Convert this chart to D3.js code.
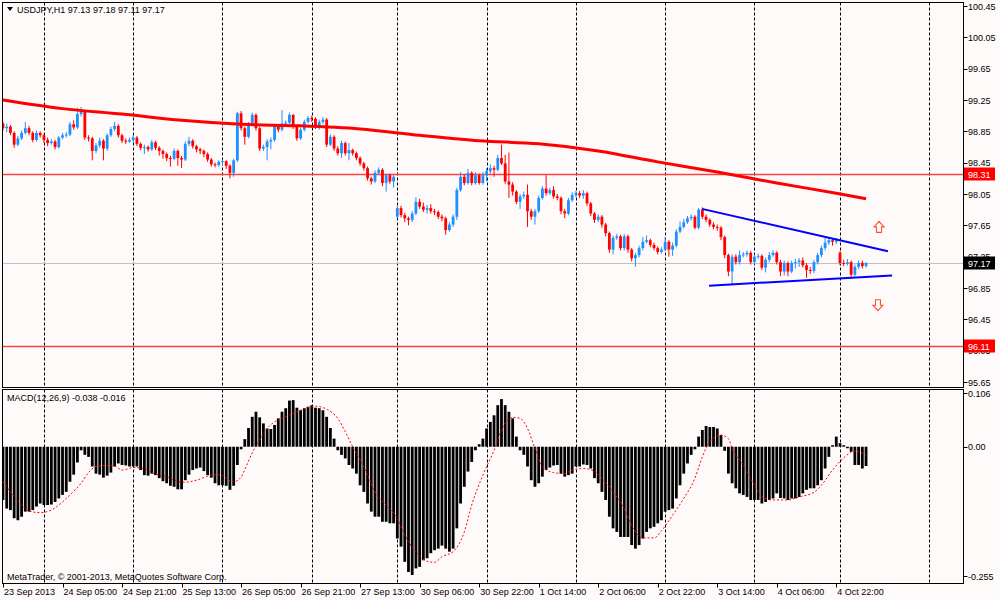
<!DOCTYPE html>
<html>
<head>
<meta charset="utf-8">
<script src="https://cdn.jsdelivr.net/npm/d3@7"></script>
<style>
body{margin:0;background:#fffafa;}
svg text{font-family:"Liberation Sans",Arial,sans-serif;font-size:9px;fill:#000;}
</style>
</head>
<body>
<svg id="chart" width="1000" height="600"></svg>
<script>
// USDJPY H1, one value per bar (bar 0 = 23 Sep 13:00)
const opens = [98.95,98.89,98.91,98.83,98.68,98.76,98.83,98.89,98.83,98.74,98.83,98.80,98.74,98.70,98.72,98.65,98.77,98.80,98.81,98.94,
98.90,99.07,99.11,98.77,98.76,98.60,98.67,98.73,98.63,98.80,98.88,98.92,98.80,98.73,98.72,98.74,98.77,98.69,98.64,98.65,
98.62,98.71,98.64,98.60,98.56,98.51,98.50,98.60,98.51,98.49,98.69,98.73,98.66,98.62,98.60,98.56,98.49,98.43,98.42,98.46,
98.47,98.41,98.32,98.48,99.08,98.89,98.78,98.95,99.06,98.89,98.63,98.65,98.72,98.74,98.91,98.87,98.95,98.96,99.06,98.91,
98.76,98.87,98.97,99.02,99.01,98.91,98.97,99.00,98.68,98.78,98.63,98.57,98.70,98.57,98.61,98.57,98.51,98.44,98.38,98.25,
98.21,98.32,98.36,98.19,98.29,98.21,97.76,97.87,97.78,97.74,97.72,97.80,97.95,97.89,97.85,97.87,97.83,97.82,97.76,97.74,
97.59,97.66,97.76,98.10,98.27,98.19,98.32,98.19,98.29,98.19,98.29,98.34,98.38,98.36,98.51,98.44,98.21,98.17,98.08,97.95,
98.02,98.04,97.83,97.76,97.83,98.00,98.12,98.06,98.10,98.02,98.00,97.83,97.80,97.97,98.04,98.06,98.03,98.06,97.93,97.80,
97.72,97.76,97.66,97.55,97.34,97.49,97.51,97.36,97.51,97.34,97.23,97.27,97.36,97.44,97.46,97.40,97.36,97.31,97.34,97.44,
97.34,97.39,97.57,97.63,97.69,97.74,97.76,97.62,97.85,97.76,97.72,97.66,97.63,97.62,97.50,97.27,97.06,97.25,97.18,97.27,
97.28,97.30,97.18,97.25,97.26,97.11,97.21,97.27,97.30,97.18,97.06,97.17,97.06,97.17,97.18,97.20,97.14,97.08,97.07,97.18,
97.27,97.36,97.43,97.46,97.44,97.30,97.17,97.16,97.18,97.02,97.12,97.17,97.13];
const highs = [98.97,98.95,98.93,98.85,98.79,98.86,98.97,98.92,98.85,98.86,98.85,98.82,98.77,98.75,98.74,98.79,98.83,98.84,98.97,98.99,
99.15,99.16,99.12,98.80,98.78,98.70,98.77,98.75,98.82,98.91,98.97,98.94,98.82,98.76,98.77,98.80,98.79,98.71,98.68,98.67,
98.74,98.73,98.66,98.62,98.58,98.54,98.63,98.62,98.54,98.72,98.78,98.75,98.68,98.64,98.62,98.58,98.51,98.45,98.48,98.49,
98.48,98.43,98.50,99.10,99.11,98.91,98.97,99.09,99.08,98.91,98.68,98.75,98.77,98.93,98.93,99.12,98.99,99.09,99.07,98.93,
98.90,99.00,99.05,99.05,99.03,99.00,99.03,99.02,98.81,98.80,98.66,98.73,98.72,98.70,98.63,98.59,98.53,98.46,98.40,98.27,
98.35,98.39,98.38,98.31,98.31,98.30,97.90,97.90,97.81,97.76,97.83,98.01,97.99,97.94,97.91,97.92,97.86,97.84,97.79,97.76,
97.69,97.79,98.13,98.33,98.30,98.37,98.34,98.33,98.31,98.33,98.38,98.43,98.41,98.55,98.68,98.55,98.58,98.20,98.10,98.05,
98.08,98.17,97.86,97.86,98.03,98.15,98.29,98.13,98.15,98.05,98.02,97.86,98.00,98.07,98.09,98.09,98.10,98.08,97.95,97.82,
97.79,97.78,97.68,97.57,97.52,97.54,97.53,97.54,97.53,97.36,97.30,97.39,97.50,97.52,97.48,97.43,97.38,97.37,97.50,97.46,
97.43,97.60,97.70,97.73,97.77,97.79,97.78,97.87,97.88,97.79,97.74,97.69,97.66,97.64,97.52,97.29,97.28,97.28,97.33,97.31,
97.33,97.32,97.28,97.29,97.28,97.24,97.31,97.33,97.32,97.21,97.20,97.19,97.20,97.22,97.23,97.24,97.17,97.12,97.21,97.30,
97.39,97.49,97.50,97.48,97.49,97.32,97.21,97.22,97.20,97.15,97.20,97.20,97.18];
const lows = [98.86,98.84,98.80,98.64,98.66,98.74,98.81,98.80,98.71,98.72,98.77,98.70,98.66,98.68,98.62,98.63,98.75,98.77,98.79,98.87,
98.88,99.04,98.74,98.72,98.48,98.57,98.64,98.48,98.60,98.78,98.85,98.77,98.70,98.69,98.70,98.71,98.66,98.61,98.56,98.59,
98.60,98.61,98.54,98.50,98.47,98.40,98.48,98.41,98.38,98.47,98.66,98.63,98.58,98.56,98.52,98.46,98.40,98.39,98.40,98.42,
98.37,98.25,98.27,98.46,98.86,98.68,98.76,98.93,98.86,98.60,98.60,98.48,98.62,98.72,98.84,98.85,98.92,98.94,98.88,98.73,
98.74,98.85,98.95,98.97,98.88,98.87,98.94,98.65,98.66,98.60,98.54,98.51,98.54,98.48,98.54,98.48,98.41,98.35,98.22,98.17,
98.19,98.30,98.15,98.08,98.18,98.13,97.74,97.75,97.69,97.65,97.69,97.78,97.86,97.82,97.80,97.80,97.78,97.73,97.70,97.53,
97.57,97.63,97.72,98.08,98.16,98.17,98.16,98.17,98.17,98.17,98.21,98.31,98.27,98.34,98.42,98.18,98.00,98.03,97.92,97.86,
97.99,97.63,97.72,97.66,97.81,97.98,98.03,98.04,97.99,97.97,97.79,97.74,97.78,97.95,98.01,98.00,97.99,97.90,97.77,97.68,
97.69,97.62,97.51,97.30,97.28,97.46,97.33,97.33,97.30,97.19,97.12,97.24,97.33,97.42,97.37,97.33,97.28,97.29,97.32,97.25,
97.26,97.37,97.55,97.61,97.67,97.71,97.60,97.60,97.73,97.69,97.63,97.60,97.58,97.46,97.23,97.00,96.89,97.15,97.15,97.24,
97.25,97.15,97.15,97.22,97.08,97.05,97.18,97.25,97.15,97.00,97.01,97.00,97.04,97.10,97.12,97.11,96.98,97.03,97.04,97.15,
97.24,97.33,97.40,97.39,97.41,97.14,97.13,97.14,96.97,97.00,97.09,97.10,97.11];
const closes = [98.89,98.91,98.83,98.68,98.76,98.83,98.89,98.83,98.74,98.83,98.80,98.74,98.70,98.72,98.65,98.77,98.80,98.81,98.94,98.90,
99.07,99.11,98.77,98.76,98.60,98.67,98.73,98.63,98.80,98.88,98.92,98.80,98.73,98.72,98.74,98.77,98.69,98.64,98.65,98.62,
98.71,98.64,98.60,98.56,98.51,98.50,98.60,98.51,98.49,98.69,98.73,98.66,98.62,98.60,98.56,98.49,98.43,98.42,98.46,98.47,
98.41,98.32,98.48,99.08,98.89,98.78,98.95,99.06,98.89,98.63,98.65,98.72,98.74,98.91,98.87,98.95,98.96,99.06,98.91,98.76,
98.87,98.97,99.02,99.01,98.91,98.97,99.00,98.68,98.78,98.63,98.57,98.70,98.57,98.61,98.57,98.51,98.44,98.38,98.25,98.21,
98.32,98.36,98.19,98.29,98.21,98.27,97.87,97.78,97.74,97.72,97.80,97.95,97.89,97.85,97.87,97.83,97.82,97.76,97.74,97.59,
97.66,97.76,98.10,98.27,98.19,98.32,98.19,98.29,98.19,98.29,98.34,98.38,98.36,98.51,98.44,98.21,98.17,98.08,97.95,98.02,
98.04,97.83,97.76,97.83,98.00,98.12,98.06,98.10,98.02,98.00,97.83,97.80,97.97,98.04,98.06,98.03,98.06,97.93,97.80,97.72,
97.76,97.66,97.55,97.34,97.49,97.51,97.36,97.51,97.34,97.23,97.27,97.36,97.44,97.46,97.40,97.36,97.31,97.34,97.44,97.34,
97.39,97.57,97.63,97.69,97.74,97.76,97.62,97.85,97.76,97.72,97.66,97.63,97.62,97.50,97.27,97.06,97.25,97.18,97.27,97.28,
97.30,97.18,97.25,97.26,97.11,97.21,97.27,97.30,97.18,97.06,97.17,97.06,97.17,97.18,97.20,97.14,97.08,97.07,97.18,97.27,
97.36,97.43,97.46,97.44,97.46,97.17,97.16,97.18,97.02,97.12,97.17,97.13,97.17];

// MACD(12,26,9) main values (histogram)
const macd = [-0.105,-0.122,-0.125,-0.141,-0.145,-0.138,-0.128,-0.128,-0.125,-0.118,-0.112,-0.115,-0.115,-0.114,-0.109,-0.102,-0.095,-0.089,-0.069,-0.055,
-0.031,-0.007,-0.016,-0.020,-0.039,-0.053,-0.055,-0.061,-0.057,-0.051,-0.039,-0.033,-0.036,-0.037,-0.039,-0.039,-0.039,-0.046,-0.056,-0.057,
-0.053,-0.056,-0.062,-0.068,-0.072,-0.077,-0.079,-0.084,-0.084,-0.066,-0.055,-0.046,-0.043,-0.041,-0.048,-0.056,-0.061,-0.072,-0.076,-0.076,
-0.077,-0.085,-0.077,-0.036,-0.005,0.015,0.037,0.059,0.069,0.058,0.046,0.036,0.035,0.043,0.056,0.069,0.076,0.091,0.092,0.077,
0.072,0.076,0.079,0.082,0.077,0.076,0.072,0.059,0.037,0.016,-0.007,-0.016,-0.023,-0.036,-0.043,-0.053,-0.076,-0.089,-0.112,-0.128,
-0.138,-0.138,-0.148,-0.148,-0.151,-0.151,-0.181,-0.197,-0.227,-0.247,-0.253,-0.240,-0.237,-0.224,-0.220,-0.210,-0.204,-0.201,-0.195,-0.201,
-0.207,-0.201,-0.161,-0.112,-0.079,-0.049,-0.030,-0.007,0.005,0.016,0.036,0.049,0.062,0.082,0.094,0.082,0.069,0.056,0.020,-0.007,
-0.016,-0.039,-0.066,-0.079,-0.072,-0.059,-0.046,-0.041,-0.037,-0.036,-0.053,-0.059,-0.056,-0.053,-0.039,-0.039,-0.035,-0.036,-0.043,-0.062,
-0.072,-0.089,-0.105,-0.138,-0.161,-0.168,-0.178,-0.178,-0.178,-0.194,-0.201,-0.194,-0.181,-0.168,-0.161,-0.158,-0.151,-0.145,-0.128,-0.125,
-0.122,-0.102,-0.076,-0.053,-0.033,-0.016,-0.005,0.020,0.033,0.041,0.039,0.039,0.036,0.023,-0.008,-0.053,-0.072,-0.082,-0.092,-0.095,
-0.099,-0.105,-0.105,-0.105,-0.112,-0.109,-0.105,-0.102,-0.092,-0.101,-0.102,-0.105,-0.102,-0.102,-0.099,-0.092,-0.085,-0.082,-0.082,-0.076,
-0.066,-0.043,-0.020,0.003,0.020,0.007,0.003,-0.003,-0.010,-0.036,-0.036,-0.043,-0.038];

// signal line, read at these bars
const sigBars = [0,2,5,7,10,13,15,18,21,23,25,28,30,32,35,38,40,44,47,49,52,56,58,62,64,65,67,69,71,74,76,79,82,84,87,90,92,94,96,98,
100,103,106,108,111,114,116,118,121,124,126,129,132,134,137,139,141,143,145,148,151,153,156,159,161,164,167,169,172,175,177,180,183,186,188,190,193,195,196,199,
202,204,207,211,214,218,220,223,226,229,231,232];
const sigVals = [-0.069,-0.089,-0.115,-0.127,-0.130,-0.125,-0.115,-0.095,-0.072,-0.051,-0.039,-0.037,-0.038,-0.046,-0.041,-0.043,-0.051,-0.059,-0.068,-0.070,
-0.066,-0.056,-0.055,-0.069,-0.060,-0.045,-0.012,0.013,0.036,0.053,0.059,0.069,0.077,0.080,0.074,0.056,0.030,0.000,-0.026,-0.056,
-0.089,-0.115,-0.141,-0.174,-0.207,-0.226,-0.228,-0.217,-0.207,-0.168,-0.115,-0.056,-0.007,0.033,0.058,0.056,0.036,-0.003,-0.039,-0.051,
-0.053,-0.046,-0.043,-0.048,-0.062,-0.089,-0.122,-0.155,-0.180,-0.180,-0.166,-0.135,-0.102,-0.062,-0.020,0.010,0.023,0.016,-0.003,-0.036,
-0.076,-0.099,-0.105,-0.105,-0.099,-0.090,-0.076,-0.046,-0.022,-0.008,-0.013,-0.016];

// thick red moving average, read at these bars
const maBars = [0,16,32,48,64,80,96,112,128,144,160,176,192,208,224,232];
const maVals = [99.25,99.14,99.07,98.99,98.94,98.92,98.88,98.80,98.73,98.69,98.60,98.46,98.33,98.19,98.06,97.99];

const tickBars = [0,16,32,48,64,80,96,112,128,144,160,176,192,208,224];
const tickLabels = ['23 Sep 2013','24 Sep 05:00','24 Sep 21:00','25 Sep 13:00','26 Sep 05:00','26 Sep 21:00','27 Sep 13:00',
  '30 Sep 06:00','30 Sep 22:00','1 Oct 14:00','2 Oct 06:00','2 Oct 22:00','3 Oct 14:00','4 Oct 06:00','4 Oct 22:00'];
const gridBars = [11,35,59,83,106,130,154,178,202,225,249];
const priceTicks = [100.45,100.05,99.65,99.25,98.85,98.45,98.05,97.65,97.25,96.85,96.45,96.05,95.65];
const macdTicks = [0.106,0,-0.255];
const macdTickLabels = ['0.106','0.00','-0.255'];
const levels = [98.31,96.11];
const bid = 97.17;
const upperLine = [[187.9,97.86],[237.9,97.32]];
const lowerLine = [[189.8,96.88],[239.0,97.01]];
const arrowsUp = [[235.5,97.63]];
const arrowsDown = [[235.2,96.63]];

const svg = d3.select('#chart');
const L = 2.5, R = 963.5, mainTop = 2.5, mainBot = 387.5, subTop = 389.5, subBot = 583.5;

const x = d3.scaleLinear().domain([0, 232]).range([3, 3 + 232 * 3.72]);
const y = d3.scaleLinear().domain([95.65, 100.45]).range([382, 6]);
const ym = d3.scaleLinear().domain([-0.255, 0.106]).range([576, 393]);

svg.append('rect').attr('width', 1000).attr('height', 600).attr('fill', '#fffafa');

svg.append('clipPath').attr('id', 'cm').append('rect')
  .attr('x', L).attr('y', mainTop).attr('width', R - L).attr('height', mainBot - mainTop);
svg.append('clipPath').attr('id', 'cs').append('rect')
  .attr('x', L).attr('y', subTop).attr('width', R - L).attr('height', subBot - subTop);

const main = svg.append('g').attr('clip-path', 'url(#cm)');
const sub = svg.append('g').attr('clip-path', 'url(#cs)');

// day separators
[[main, mainTop, mainBot], [sub, subTop, subBot]].forEach(([g, t, b]) => {
  g.selectAll('line.grid').data(gridBars).enter().append('line')
    .attr('class', 'grid')
    .attr('x1', d => Math.round(x(d)) + 0.5).attr('x2', d => Math.round(x(d)) + 0.5)
    .attr('y1', t).attr('y2', b)
    .attr('stroke', '#000').attr('stroke-width', 1).attr('stroke-dasharray', '3,2');
});

// horizontal levels
main.selectAll('line.lvl').data(levels).enter().append('line')
  .attr('x1', L).attr('x2', R)
  .attr('y1', d => Math.round(y(d)) + 0.5).attr('y2', d => Math.round(y(d)) + 0.5)
  .attr('stroke', '#ff4040').attr('stroke-width', 1.3);
main.append('line')
  .attr('x1', L).attr('x2', R)
  .attr('y1', Math.round(y(bid)) + 0.5).attr('y2', Math.round(y(bid)) + 0.5)
  .attr('stroke', '#c0c0c0').attr('stroke-width', 1);

// candles
const idx = d3.range(closes.length);
const col = i => closes[i] >= opens[i] ? '#1e90ff' : '#ff0000';
main.selectAll('line.wick').data(idx).enter().append('line')
  .attr('x1', i => x(i)).attr('x2', i => x(i))
  .attr('y1', i => y(highs[i])).attr('y2', i => y(lows[i]))
  .attr('stroke', col).attr('stroke-width', 1);
main.selectAll('rect.body').data(idx).enter().append('rect')
  .attr('x', i => x(i) - 1.4).attr('width', 2.8)
  .attr('y', i => y(Math.max(opens[i], closes[i])))
  .attr('height', i => Math.max(1, Math.abs(y(opens[i]) - y(closes[i]))))
  .attr('fill', col);

// moving average
main.append('path')
  .datum(maBars.map((b, k) => [b, maVals[k]]))
  .attr('d', d3.line().x(d => x(d[0])).y(d => y(d[1])).curve(d3.curveMonotoneX))
  .attr('fill', 'none').attr('stroke', '#ff0000').attr('stroke-width', 3);

// triangle
[upperLine, lowerLine].forEach(seg => {
  main.append('line')
    .attr('x1', x(seg[0][0])).attr('y1', y(seg[0][1]))
    .attr('x2', x(seg[1][0])).attr('y2', y(seg[1][1]))
    .attr('stroke', '#0000ff').attr('stroke-width', 2);
});

const upArrow = 'M0,-5.5 L5,0 L2.5,0 L2.5,5.5 L-2.5,5.5 L-2.5,0 L-5,0 Z';
const downArrow = 'M0,5.5 L5,0 L2.5,0 L2.5,-5.5 L-2.5,-5.5 L-2.5,0 L-5,0 Z';
main.selectAll('path.au').data(arrowsUp).enter().append('path')
  .attr('d', upArrow).attr('transform', d => `translate(${x(d[0])},${y(d[1])})`)
  .attr('fill', '#fff').attr('stroke', '#ff5030').attr('stroke-width', 1.1);
main.selectAll('path.ad').data(arrowsDown).enter().append('path')
  .attr('d', downArrow).attr('transform', d => `translate(${x(d[0])},${y(d[1])})`)
  .attr('fill', '#fff').attr('stroke', '#ff5030').attr('stroke-width', 1.1);

// MACD histogram
sub.selectAll('rect.h').data(idx).enter().append('rect')
  .attr('x', i => x(i) - 1.4).attr('width', 2.8)
  .attr('y', i => Math.min(ym(0), ym(macd[i])))
  .attr('height', i => Math.abs(ym(macd[i]) - ym(0)))
  .attr('fill', '#000');

sub.append('path')
  .datum(sigBars.map((b, k) => [b, sigVals[k]]))
  .attr('d', d3.line().x(d => x(d[0])).y(d => ym(d[1])).curve(d3.curveMonotoneX))
  .attr('fill', 'none').attr('stroke', '#ff0000').attr('stroke-width', 1)
  .attr('stroke-dasharray', '2,2');

// frames
svg.append('rect').attr('x', L).attr('y', mainTop).attr('width', R - L).attr('height', mainBot - mainTop)
  .attr('fill', 'none').attr('stroke', '#000');
svg.append('rect').attr('x', L).attr('y', subTop).attr('width', R - L).attr('height', subBot - subTop)
  .attr('fill', 'none').attr('stroke', '#000');

// price axis
const pa = svg.append('g');
pa.selectAll('line').data(priceTicks).enter().append('line')
  .attr('x1', R).attr('x2', R + 4)
  .attr('y1', d => Math.round(y(d)) + 0.5).attr('y2', d => Math.round(y(d)) + 0.5)
  .attr('stroke', '#000');
pa.selectAll('text').data(priceTicks).enter().append('text')
  .attr('x', 968).attr('y', d => y(d) + 3.5)
  .text(d => d.toFixed(2));

function tag(v, fill) {
  const yy = Math.round(y(v));
  svg.append('rect').attr('x', 964).attr('y', yy - 6.5).attr('width', 31).attr('height', 13).attr('fill', fill);
  svg.append('text').attr('x', 968).attr('y', yy + 3.5).attr('fill', '#fff').style('fill', '#fff').text(v.toFixed(2));
}
levels.forEach(v => tag(v, '#ff0000'));
tag(bid, '#000');

// MACD axis
svg.selectAll('line.mt').data(macdTicks).enter().append('line')
  .attr('x1', R).attr('x2', R + 4)
  .attr('y1', d => Math.round(ym(d)) + 0.5).attr('y2', d => Math.round(ym(d)) + 0.5)
  .attr('stroke', '#000');
svg.selectAll('text.mt').data(macdTicks).enter().append('text')
  .attr('x', 968).attr('y', d => ym(d) + 3.5)
  .text((d, k) => macdTickLabels[k]);

// time axis
svg.selectAll('line.tt').data(tickBars).enter().append('line')
  .attr('x1', d => Math.round(x(d)) + 0.5).attr('x2', d => Math.round(x(d)) + 0.5)
  .attr('y1', subBot).attr('y2', subBot + 4)
  .attr('stroke', '#000');
svg.selectAll('text.tt').data(tickBars).enter().append('text')
  .attr('x', d => x(d) + 1).attr('y', 595)
  .text((d, k) => tickLabels[k]);

// titles
svg.append('path').attr('d', 'M7,7 L13,7 L10,11 Z').attr('fill', '#000');
svg.append('text').attr('x', 17).attr('y', 13).text('USDJPY,H1  97.13 97.18 97.11 97.17');
svg.append('text').attr('x', 7).attr('y', 401).text('MACD(12,26,9) -0.038 -0.016');
svg.append('text').attr('x', 7).attr('y', 580).text('MetaTrader, © 2001-2013, MetaQuotes Software Corp.');
</script>
</body>
</html>
